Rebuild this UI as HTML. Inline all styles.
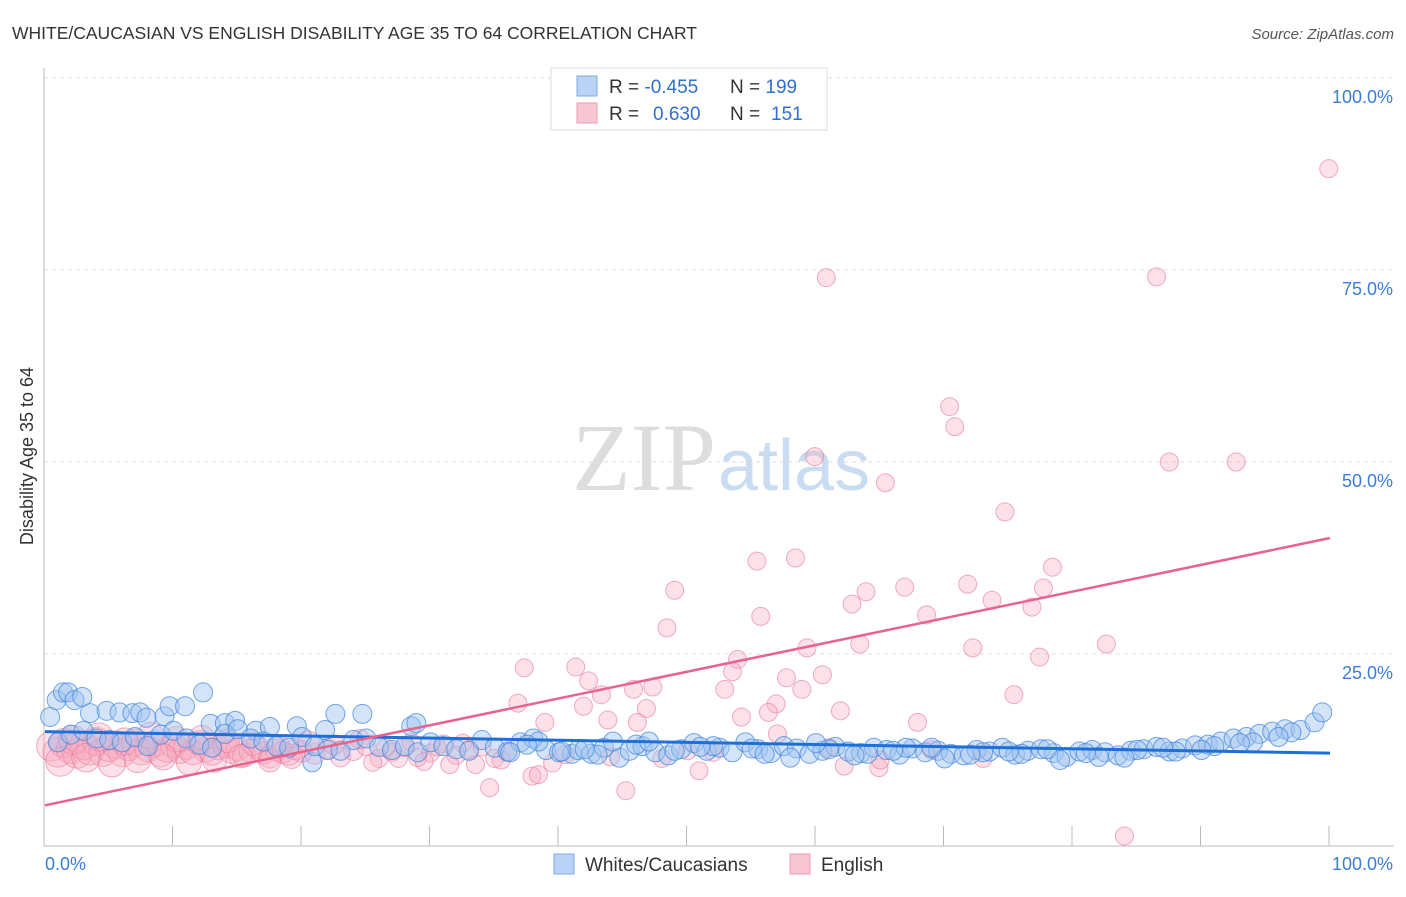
<!DOCTYPE html>
<html><head><meta charset="utf-8">
<style>
body{margin:0;background:#fff;font-family:"Liberation Sans",sans-serif;}
svg text{font-family:"Liberation Sans",sans-serif;}
</style></head>
<body>
<svg id="chart" width="1406" height="892" viewBox="0 0 1406 892">
<text x="12" y="39" font-size="17.5" fill="#333">WHITE/CAUCASIAN VS ENGLISH DISABILITY AGE 35 TO 64 CORRELATION CHART</text>
<text x="1394" y="39" font-size="15" fill="#555" font-style="italic" text-anchor="end">Source: ZipAtlas.com</text>
<text x="33" y="456" font-size="18" fill="#333" text-anchor="middle" transform="rotate(-90 33 456)">Disability Age 35 to 64</text>
<text x="716" y="490" font-size="96" fill="#ddd" text-anchor="end" style="font-family:'Liberation Serif',serif">ZIP</text>
<text x="718" y="490" font-size="72" fill="#c9dcf2">atlas</text>
<g id="grid"></g>
<g id="marks"></g>
<g id="lines"></g>
<g>
<rect x="551" y="68" width="276" height="62" fill="#fff" stroke="#ddd"/>
<rect x="577" y="76" width="20" height="20" fill="#b8d3f5" stroke="#7fa9e0"/>
<rect x="577" y="103" width="20" height="20" fill="#f9c6d4" stroke="#ec9ab2"/>
<text x="609" y="93" font-size="19" fill="#333">R = <tspan fill="#2f6fd0">-0.455</tspan></text>
<text x="730" y="93" font-size="19" fill="#333">N = <tspan fill="#2f6fd0">199</tspan></text>
<text x="609" y="120" font-size="19" fill="#333">R = <tspan fill="#2f6fd0" x="653">0.630</tspan></text>
<text x="730" y="120" font-size="19" fill="#333">N = <tspan fill="#2f6fd0" x="771">151</tspan></text>
</g>
<g>
<rect x="554" y="854" width="20" height="20" fill="#b8d3f5" stroke="#7fa9e0"/>
<text x="585" y="871" font-size="19" fill="#333">Whites/Caucasians</text>
<rect x="790" y="854" width="20" height="20" fill="#f9c6d4" stroke="#ec9ab2"/>
<text x="821" y="871" font-size="19" fill="#333">English</text>
</g>
</svg>
<script>
const blueX=[0.4,0.9,1.4,1.8,2.3,2.9,3.5,4.8,5.8,6.8,7.4,7.9,9.3,9.7,10.9,12.3,12.9,14,14.8,16.4,17.5,19.6,21.8,22.6,24.7,28.5,28.9,20.8,44.7,41,
1,2,3,4,5,6,7,8,9,10,11,12,13,14,15,16,17,18,19,20,21,22,23,24,25,26,27,28,29,30,31,32,33,34,35,36,37,38,39,40,
41.5,42.5,43.5,44.2,45.5,46.5,47.5,48.5,49.5,50.5,51.5,52.5,53.5,54.5,55.5,56.5,57.5,58.5,59.5,60.5,61.5,62.5,63.5,64.5,65.5,66.5,67.5,68.5,69.5,70.5,
71.5,72.5,73.5,74.5,75.5,76.5,77.5,78.5,79.5,80.5,81.5,82.5,83.5,84.5,85.5,86.5,87.5,88.5,89.5,90.5,91.5,92.5,93.5,94.5,95.5,96.5,97.7,98.8,99.4,
36.2,38.4,40.2,43,46,49,52,55,58,61,64,67,70,73,76,79,82,85,88,91,94,97,
37.5,42,47,51,56,60,63,66,69,72,75,78,81,84,87,90,93,96];
const blueY=[16.8,19,20,20,19,19.4,17.3,17.6,17.4,17.3,17.4,16.7,16.9,18.2,18.2,20,15.9,16,16.3,15,15.5,15.6,15.1,17.2,17.2,15.6,16,10.9,11.5,12,
13.5,14.5,15,14,13.8,13.5,14.2,13,14.5,15,14,13.2,12.8,14.6,15.2,14,13.6,13,12.8,14.2,13,12.5,12.4,13.8,14,12.9,12.5,13,12.2,13.5,13,12.6,12.4,13.8,12.8,12.3,13.5,14,12.5,12.2,
12.5,12,12.8,13.6,12.4,13,12.2,11.8,12.6,13.4,12.4,12.8,12.2,13.5,12.6,12.1,13,12.7,12,12.4,12.9,12.3,12.1,12.8,12.5,11.9,12.7,12.2,12.4,12,
11.8,12.5,12.3,12.8,11.9,12.4,12.6,12.1,11.6,12.3,12.5,12.2,11.8,12.4,12.6,12.9,12.3,12.7,13.1,13.2,13.6,14,14.2,14.6,14.9,15.2,15.1,16.1,17.4,
12.2,13.6,12.3,11.9,13.2,12.4,13,12.7,11.5,12.6,12,12.8,11.4,12.2,12,11.2,11.6,12.5,12.3,13,13.5,14.8,
13.2,12.6,13.6,12.9,12,13.4,11.8,12.4,12.8,11.9,12.3,12.6,12.1,11.5,12.8,12.5,13.4,14.2];
const pinkX=[99.9,60.8,86.5,70.4,70.8,59.9,87.5,92.7,65.4,74.7,55.4,58.4,78.4,71.8,66.9,77.7,49,63.9,73.7,62.8,76.8,68.6,55.7,48.4,59.3,63.4,72.2,82.6,77.4,53.9,37.3,41.3,53.5,60.5,57.7,42.3,52.9,47.3,45.8,58.9,75.4,43.3,36.8,56.9,41.9,46.8,61.9,56.3,54.2,38.9,43.8,46.1,67.9,84,45.2,34.6,37.9,38.4,50.9,62.2,64.9,
0.5,1,1.5,2,2.5,3,3.5,4,4.5,5,5.5,6,6.5,7,7.5,8,8.5,9,9.5,10,10.5,11,11.5,12,12.5,13,13.5,14,14.5,15,15.5,16,16.5,17,17.5,18,18.5,19,19.5,20,21,22,23,24,25,26,27,28,29,30,31,32,33,34,35,36,
2.2,4.2,6.2,8.2,10.2,12.2,14.2,16.2,18.2,20.5,22.5,24.5,26.5,28.5,30.5,32.5,33.5,35.5,39.5,44,48,52,57,61,65,69,73,
1.2,3.2,5.2,7.2,9.2,11.2,13.2,15.2,17.5,19.2,25.5,27.5,29.5,31.5,40.5,50];
const pinkY=[88.2,74,74.1,57.2,54.6,50.7,50,50,47.3,43.5,37.1,37.5,36.3,34.1,33.7,33.6,33.3,33.1,32,31.5,31.1,30.1,29.9,28.4,25.8,26.3,25.8,26.3,24.6,24.3,23.2,23.3,22.7,22.3,21.9,21.5,20.4,20.7,20.4,20.4,19.7,19.7,18.6,18.5,18.2,17.9,17.6,17.4,16.8,16.1,16.4,16.1,16.1,1.3,7.2,7.6,9.1,9.3,9.8,10.4,10.2,
13,12.2,13.4,12.6,12,13.1,12.4,13.6,12.2,12.8,13.2,12.1,12.9,13.5,12.3,12.7,13.3,12,12.6,13.1,12.4,12.9,12.2,13.4,12.5,12.1,12.8,13,12.3,12.6,11.8,12.4,12.9,12.1,11.6,12.5,12.2,11.9,12.6,12.3,12,12.7,11.6,12.4,12.9,11.4,12.2,12.8,11.5,12.1,13.3,11.8,12.5,12.9,11.4,12.2,
13.8,14.2,13.6,14.4,13.9,14.1,13.7,13.3,12.9,13.6,13.2,13.9,12.8,13.5,12.9,13.4,10.6,11.2,10.8,11.6,11.4,12.2,14.6,12.8,11.2,12.5,11.4,
11,11.5,10.8,11.3,11.6,10.9,11.2,11.7,11.1,11.5,10.9,11.4,11,10.6,11.9,12.4];
const tickX=[0,10,20,30,40,50,60,70,80,90,100];
const yTicks=[25,50,75,100];
const yTickLabels=["25.0%","50.0%","75.0%","100.0%"];
const xEndLabels=["0.0%","100.0%"];
const blueTrend=[14.9,12.1];
const pinkTrend=[5.3,40.1];

const NS="http://www.w3.org/2000/svg";
const X0=45,X1=1330,Y0=846,Y100=78;
const sx=v=>X0+(X1-X0)*v/100;
const sy=v=>Y0-(Y0-Y100)*v/100;
function mk(tag,attrs,parent){const e=document.createElementNS(NS,tag);for(const k in attrs)e.setAttribute(k,attrs[k]);parent.appendChild(e);return e;}
const grid=document.getElementById('grid'),marks=document.getElementById('marks'),lines=document.getElementById('lines');
yTicks.forEach((t,i)=>{
  const l=mk('line',{x1:44,x2:1394,y1:sy(t),y2:sy(t),stroke:'#ddd','stroke-dasharray':'4,4'},grid);
  
  
  const tx=mk('text',{x:1393,y:sy(t)+25,'font-size':18,fill:'#3b7dd8','text-anchor':'end'},grid);
  tx.textContent=yTickLabels[i];
  
  
});
const ax=mk('line',{x1:44,x2:44,y1:68,y2:846,stroke:'#bbb'},grid);


const bx=mk('line',{x1:44,x2:1394,y1:846,y2:846,stroke:'#bbb'},grid);


tickX.forEach(t=>{
  const l=mk('line',{x1:sx(t)-1,x2:sx(t)-1,y1:826,y2:846,stroke:'#bbb'},grid);
  
  
});
[[0,'start',45],[100,'end',1393]].forEach((a,i)=>{
  const tx=mk('text',{x:a[2],y:870,'font-size':18,fill:'#3b7dd8','text-anchor':a[1]},grid);
  tx.textContent=xEndLabels[i];
  
  
});
pinkX.forEach((x,i)=>{
  const r=x<25?9.5+(25-x)*0.22:9;
  const c=mk('circle',{cx:sx(x),cy:sy(pinkY[i]),r:r,fill:'rgba(246,170,192,0.35)',stroke:'rgba(232,120,155,0.6)','stroke-width':1},marks);
  
  
});
blueX.forEach((x,i)=>{
  const c=mk('circle',{cx:sx(x),cy:sy(blueY[i]),r:9.5,fill:'rgba(160,196,240,0.45)',stroke:'rgba(60,130,220,0.7)','stroke-width':1},marks);
  
  
});
const bl=mk('line',{x1:sx(0),x2:sx(100),y1:sy(blueTrend[0]),y2:sy(blueTrend[1]),stroke:'#1f6fd8','stroke-width':3},lines);


const pl=mk('line',{x1:sx(0),x2:sx(100),y1:sy(pinkTrend[0]),y2:sy(pinkTrend[1]),stroke:'#e8638e','stroke-width':2.5},lines);


</script>
</body></html>
